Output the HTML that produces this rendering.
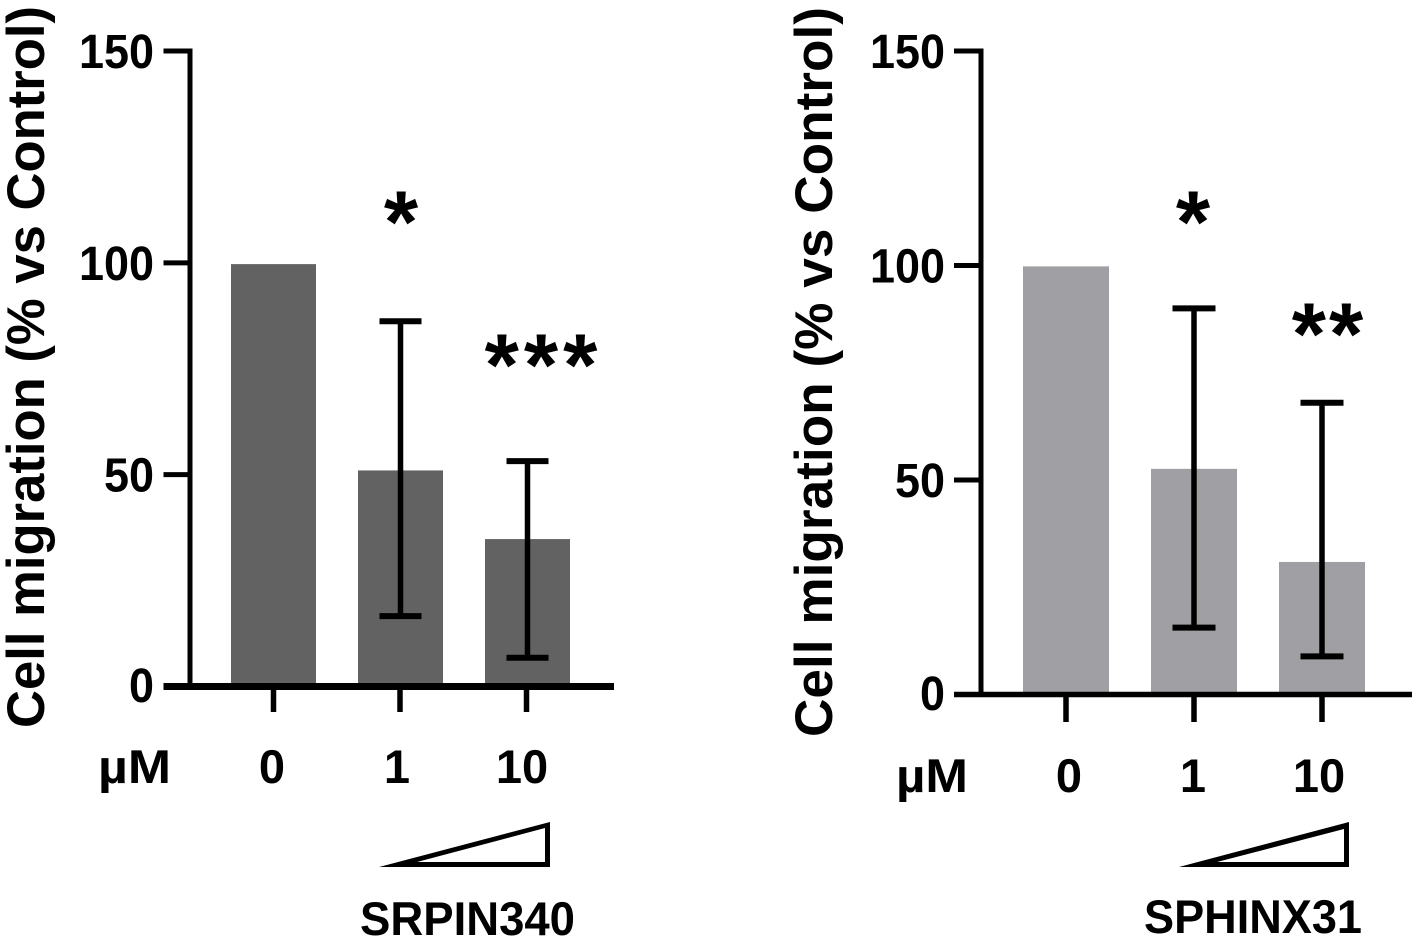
<!DOCTYPE html>
<html lang="en">
<head>
<meta charset="utf-8">
<title>Cell migration bar charts</title>
<style>
html,body{margin:0;padding:0;background:#fff;width:1417px;height:945px;overflow:hidden}
svg{display:block}
text{font-family:"Liberation Sans",sans-serif;font-weight:bold;fill:#000}
</style>
</head>
<body>
<svg id="figure" xmlns="http://www.w3.org/2000/svg" width="1417" height="945" viewBox="0 0 1417 945">
  <rect x="0" y="0" width="1417" height="945" fill="#fff"/>

  <g id="panel-left">
    <text transform="translate(44,728) rotate(-90)" font-size="52.5" textLength="722" lengthAdjust="spacingAndGlyphs">Cell migration (% vs Control)</text>
    <text x="98" y="783" font-size="47" textLength="73" lengthAdjust="spacingAndGlyphs">µM</text>
    <polygon fill="#000" points="379,867 550,867 550,822"/>
    <polygon fill="#fff" points="417,862 545,862 545,828"/>
    <text x="360" y="935" font-size="47" textLength="215" lengthAdjust="spacingAndGlyphs">SRPIN340</text>
    <text x="401" y="252" font-size="88" text-anchor="middle">*</text>
    <text x="543.5" y="395" font-size="88" text-anchor="middle" letter-spacing="5">***</text>
  </g>

  <g id="panel-right">
    <text transform="translate(832,737) rotate(-90)" font-size="53" textLength="730" lengthAdjust="spacingAndGlyphs">Cell migration (% vs Control)</text>
    <text x="896" y="792" font-size="47" textLength="72" lengthAdjust="spacingAndGlyphs">µM</text>
    <polygon fill="#000" points="1179,867 1349,867 1349,822"/>
    <polygon fill="#fff" points="1217,862 1344,862 1344,829"/>
    <text x="1144" y="933" font-size="47" textLength="218" lengthAdjust="spacingAndGlyphs">SPHINX31</text>
    <text x="1193" y="252" font-size="88" text-anchor="middle">*</text>
    <text x="1329" y="364" font-size="88" text-anchor="middle" letter-spacing="3">**</text>
  </g>
</svg>
<script>
const doseLabels = ["0", "1", "10"];
const yTickValues = [0, 50, 100, 150];

const srpinMeans = [99.7, 51, 34.8];
const srpinUpper = [null, 86.2, 53.2];
const srpinLower = [null, 16.6, 6.8];

const sphinxMeans = [99.8, 52.6, 30.9];
const sphinxUpper = [null, 90, 68];
const sphinxLower = [null, 15.6, 8.9];

const SVG_NS = "http://www.w3.org/2000/svg";

function shape(parent, tag, attrs, content) {
  const el = document.createElementNS(SVG_NS, tag);
  for (const k in attrs) el.setAttribute(k, attrs[k]);
  if (content !== undefined) el.textContent = content;
  parent.appendChild(el);
  return el;
}

function drawPanel(parentId, key, means, upper, lower, layout) {
  const parent = document.getElementById(parentId);
  const yScale = v => layout.y0 + (layout.y150 - layout.y0) * v / 150;
  const xScale = i => layout.firstX + i * layout.stepX;
  const xTickScale = i => layout.firstTick + i * layout.stepTick;
  const xLabelScale = i => layout.labelX[0] + i * layout.labelStep + (i === 2 ? layout.labelNudge : 0);

  means.forEach((m, i) => {
    const bar = shape(parent, "rect", {
      x: xScale(i) - layout.barW / 2,
      y: yScale(m),
      width: layout.barW,
      height: yScale(0) - yScale(m),
      fill: layout.fill
    });
    
    
  });

  means.forEach((m, i) => {
    if (upper[i] === null) return;
    const stem = shape(parent, "line", {
      x1: xScale(i), x2: xScale(i),
      y1: yScale(upper[i]), y2: yScale(lower[i]),
      stroke: "#000", "stroke-width": 5.5
    });
    
    
    [upper[i], lower[i]].forEach(v => {
      const cap = shape(parent, "line", {
        x1: xScale(i) - layout.capW / 2, x2: xScale(i) + layout.capW / 2,
        y1: yScale(v), y2: yScale(v),
        stroke: "#000", "stroke-width": 6
      });
      
      
    });
  });

  const yAxis = shape(parent, "line", {
    x1: layout.axisX, x2: layout.axisX,
    y1: yScale(150) - 2.5, y2: yScale(0),
    stroke: "#000", "stroke-width": 5
  });
  
  

  const xAxis = shape(parent, "line", {
    x1: layout.axisLeft, x2: layout.axisRight,
    y1: yScale(0), y2: yScale(0),
    stroke: "#000", "stroke-width": layout.xAxisW
  });
  
  

  yTickValues.forEach(v => {
    const tick = shape(parent, "line", {
      x1: layout.axisLeft, x2: layout.axisX,
      y1: yScale(v), y2: yScale(v),
      stroke: "#000", "stroke-width": 5
    });
    
    
    const text = String(v);
    const label = shape(parent, "text", {
      x: layout.tickLabelX - text.length * 25,
      y: yScale(v) + (v === 0 ? 15.5 : 17),
      "font-size": 48,
      textLength: text.length * 25,
      lengthAdjust: "spacingAndGlyphs"
    }, text);
    
    
  });

  doseLabels.forEach((d, i) => {
    const tick = shape(parent, "line", {
      x1: xTickScale(i), x2: xTickScale(i),
      y1: yScale(0), y2: layout.tickEnd,
      stroke: "#000", "stroke-width": 5.5
    });
    
    
    const label = shape(parent, "text", {
      x: xLabelScale(i),
      y: layout.labelY,
      "font-size": 47,
      "text-anchor": "middle"
    }, d);
    
    
  });
}

drawPanel("panel-left", "srpin340", srpinMeans, srpinUpper, srpinLower, {
  y0: 686.5, y150: 51, axisX: 190, axisLeft: 163.5, axisRight: 614,
  firstX: 273.5, stepX: 127, barW: 85, capW: 42,
  firstTick: 273.5, stepTick: 126.5, tickEnd: 712, xAxisW: 7,
  tickLabelX: 154, labelX: [272], labelStep: 125, labelNudge: 0, labelY: 783,
  fill: "#626262"
});

drawPanel("panel-right", "sphinx31", sphinxMeans, sphinxUpper, sphinxLower, {
  y0: 694.5, y150: 51, axisX: 981, axisLeft: 954, axisRight: 1412,
  firstX: 1066, stepX: 128, barW: 86, capW: 43,
  firstTick: 1066, stepTick: 128, tickEnd: 722, xAxisW: 5.5,
  tickLabelX: 945, labelX: [1069], labelStep: 124, labelNudge: 2, labelY: 792,
  fill: "#a0a0a4"
});
</script>
</body>
</html>
